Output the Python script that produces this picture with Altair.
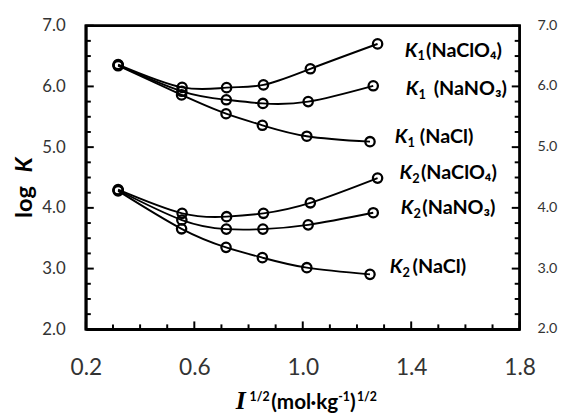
import altair as alt
import pandas as pd

# ---- data ----
x_nacl = [0.319, 0.553, 0.717, 0.851, 1.015, 1.248]
x_nano3 = [0.319, 0.554, 0.718, 0.853, 1.020, 1.260]
x_naclo4 = [0.319, 0.555, 0.719, 0.855, 1.028, 1.276]

k1_nacl = [6.34, 5.86, 5.55, 5.36, 5.18, 5.09]
k1_nano3 = [6.35, 5.92, 5.78, 5.72, 5.75, 6.01]
k1_naclo4 = [6.36, 5.985, 5.98, 6.025, 6.29, 6.70]
k2_nacl = [4.28, 3.655, 3.35, 3.18, 3.015, 2.905]
k2_nano3 = [4.29, 3.80, 3.65, 3.65, 3.72, 3.92]
k2_naclo4 = [4.30, 3.91, 3.855, 3.91, 4.083, 4.49]

label_sub = ["1", "1", "1", "2", "2", "2"]
label_salt = ["(NaClO₄)", "(NaNO₃)", "(NaCl)", "(NaClO₄)", "(NaNO₃)", "(NaCl)"]
label_x = [1.376, 1.380, 1.339, 1.357, 1.361, 1.321]
label_paren_x = [1.455, 1.483, 1.432, 1.436, 1.441, 1.405]
label_y = [6.59, 5.96, 5.16, 4.57, 4.00, 3.03]

x_ticks_major = [0.2, 0.6, 1.0, 1.4, 1.8]
x_ticks_minor = [0.3, 0.4, 0.5, 0.7, 0.8, 0.9, 1.1, 1.2, 1.3, 1.5, 1.6, 1.7]
y_ticks_major = [2, 3, 4, 5, 6, 7]
y_tick_labels = ["2.0", "3.0", "4.0", "5.0", "6.0", "7.0"]
y_ticks_minor = [2.25, 2.5, 2.75, 3.25, 3.5, 3.75, 4.25, 4.5, 4.75,
                 5.25, 5.5, 5.75, 6.25, 6.5, 6.75]

X0, X1, Y0, Y1 = 0.2, 1.8, 2.0, 7.0

series = [
    ("K1 NaCl", x_nacl, k1_nacl), ("K1 NaNO3", x_nano3, k1_nano3), ("K1 NaClO4", x_naclo4, k1_naclo4),
    ("K2 NaCl", x_nacl, k2_nacl), ("K2 NaNO3", x_nano3, k2_nano3), ("K2 NaClO4", x_naclo4, k2_naclo4),
]
rows = []
for name, xs, ys in series:
    for a, b in zip(xs, ys):
        rows.append({"x": a, "y": b, "s": name})
df = pd.DataFrame(rows)

lab = pd.DataFrame({"lx": label_x, "px": label_paren_x, "ly": label_y,
                    "sub": label_sub, "salt": label_salt})

W, H = 440, 308
xscale = alt.Scale(domain=[X0, X1], nice=False, zero=False)
yscale = alt.Scale(domain=[Y0, Y1], nice=False, zero=False)

# inward tick segments (lengths in data units: ~8 px major, ~5 px minor)
dx_major, dx_minor = 8 * (X1 - X0) / W, 5 * (X1 - X0) / W
dy_major, dy_minor = 8 * (Y1 - Y0) / H, 5 * (Y1 - Y0) / H
seg = []
k = 0
for v in y_ticks_major + y_ticks_minor:
    L = dx_major if v in y_ticks_major else dx_minor
    seg += [{"id": k, "o": 0, "x": X0, "y": v}, {"id": k, "o": 1, "x": X0 + L, "y": v}]
    k += 1
    seg += [{"id": k, "o": 0, "x": X1, "y": v}, {"id": k, "o": 1, "x": X1 - L, "y": v}]
    k += 1
for v in x_ticks_major + x_ticks_minor:
    L = dy_major if v in x_ticks_major else dy_minor
    seg += [{"id": k, "o": 0, "x": v, "y": Y0}, {"id": k, "o": 1, "x": v, "y": Y0 + L}]
    k += 1
ticks_df = pd.DataFrame(seg)

frame_df = pd.DataFrame({"o": [0, 1, 2, 3, 4],
                         "x": [X0, X0, X1, X1, X0],
                         "y": [Y0, Y1, Y1, Y0, Y0]})

FONT = "Lato, 'Noto Sans', 'DejaVu Sans'"
LBL = "#333333"

x_axis = alt.Axis(
    values=x_ticks_major, title=None, grid=False, ticks=False,
    format=".1f", labelFlush=False, domain=True, domainColor="black", domainWidth=2.5,
    labelFont=FONT, labelFontSize=23, labelColor=LBL, labelPadding=28,
)
y_axis_left = alt.Axis(
    values=y_ticks_major, title=None, grid=False, ticks=False,
    format=".1f", labelFlush=False, domain=True, domainColor="black", domainWidth=2.5,
    labelFont=FONT, labelFontSize=17, labelColor=LBL, labelPadding=21,
)

base = alt.Chart(df)
lines = base.mark_line(interpolate="natural", color="black", strokeWidth=1.9).encode(
    x=alt.X("x:Q", scale=xscale, axis=x_axis),
    y=alt.Y("y:Q", scale=yscale, axis=y_axis_left),
    detail="s:N",
)
points = base.mark_point(shape="circle", filled=False, color="black", size=90,
                         strokeWidth=2.3, opacity=1).encode(
    x=alt.X("x:Q", scale=xscale), y=alt.Y("y:Q", scale=yscale)
)

tick_lines = alt.Chart(ticks_df).mark_line(color="black", strokeWidth=2).encode(
    x=alt.X("x:Q", scale=xscale), y=alt.Y("y:Q", scale=yscale),
    detail="id:N", order="o:Q",
)
frame = alt.Chart(frame_df).mark_line(color="black", strokeWidth=2.5, strokeCap="square").encode(
    x=alt.X("x:Q", scale=xscale), y=alt.Y("y:Q", scale=yscale), order="o:Q",
)

lab_k = alt.Chart(lab).mark_text(
    text="K", align="left", baseline="middle", font=FONT, fontStyle="italic", fontWeight="bold",
    color="black", fontSize=20,
).encode(x=alt.X("lx:Q", scale=xscale), y=alt.Y("ly:Q", scale=yscale))
lab_sub = alt.Chart(lab).mark_text(
    align="left", baseline="middle", font=FONT, fontWeight="bold", color="black",
    fontSize=13, dx=13, dy=6,
).encode(x=alt.X("lx:Q", scale=xscale), y=alt.Y("ly:Q", scale=yscale), text="sub:N")
lab_salt = alt.Chart(lab).mark_text(
    align="left", baseline="middle", font=FONT, fontWeight="bold", color="black", fontSize=20,
).encode(x=alt.X("px:Q", scale=xscale), y=alt.Y("ly:Q", scale=yscale), text="salt:N")

# right-hand tick labels
right_labels = alt.Chart(pd.DataFrame({"rv": y_ticks_major, "rt": y_tick_labels})).mark_text(
    align="left", baseline="middle", font=FONT, fontSize=14.5, color=LBL, dx=18
).encode(y=alt.Y("rv:Q", scale=yscale), x=alt.value(W), text="rt:N")

one = pd.DataFrame({"v": [0]})

def txt(t, x, y, size, style="normal", font=FONT, angle=0, weight="bold"):
    return alt.Chart(one).mark_text(
        text=t, align="left", baseline="alphabetic", font=font, fontSize=size,
        fontStyle=style, fontWeight=weight, color="black", angle=angle,
    ).encode(x=alt.value(x), y=alt.value(y))

titles = [
    txt("I", 152, 389, 26, "italic", "'Liberation Serif'"),
    txt("1/2", 166, 381, 12.5),
    txt("(mol·kg", 188, 389, 21),
    txt("-1", 256, 381, 12.5),
    txt(")", 268, 389, 21),
    txt("1/2", 275, 381, 12.5),
    txt("log", -55, 195, 24, angle=270),
    txt("K", -55, 149, 24, "italic", angle=270),
]

# invisible anchors fixing the page layout (plot area at page x 87, y 23)
anchors = [
    alt.Chart(one).mark_point(opacity=0, size=1, strokeWidth=0).encode(x=alt.value(-78), y=alt.value(-14)),
    alt.Chart(one).mark_point(opacity=0, size=1, strokeWidth=0).encode(x=alt.value(484), y=alt.value(392)),
]

chart = alt.layer(lines, points, tick_lines, frame, lab_k, lab_sub, lab_salt, right_labels,
                  *titles, *anchors).properties(
    width=W, height=H,
    autosize=alt.AutoSizeParams(type="pad"),
    padding=0,
).configure_view(stroke="black", strokeWidth=2.5)

chart.save("out.html", embed_options={"renderer": "svg", "actions": False})
